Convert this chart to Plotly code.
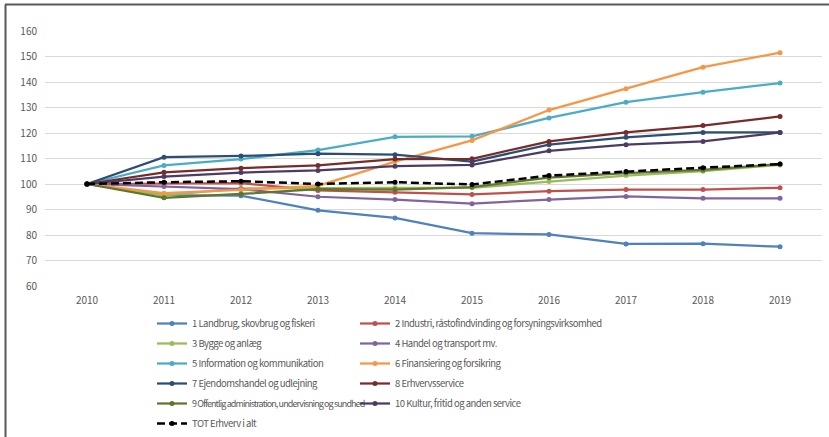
import plotly.graph_objects as go

years = [str(y) for y in range(2010, 2020)]

landbrug = [100, 95.6, 95.4, 89.7, 86.7, 80.7, 80.2, 76.5, 76.6, 75.4]
industri = [100, 100.2, 100.3, 97.5, 96.8, 95.9, 97.2, 97.8, 97.8, 98.5]
bygge = [100, 95.5, 98.3, 98.5, 98.5, 98.5, 101.0, 103.3, 105.0, 107.5]
handel = [100, 99.0, 98.0, 95.0, 93.9, 92.3, 93.9, 95.1, 94.4, 94.4]
information = [100, 107.3, 109.8, 113.3, 118.5, 118.7, 125.9, 132.1, 136.0, 139.6]
finansiering = [100, 96.4, 97.7, 99.3, 108.8, 117.1, 129.0, 137.4, 145.8, 151.5]
ejendom = [100, 110.5, 111.0, 111.9, 111.5, 108.8, 115.4, 118.3, 120.2, 120.2]
erhvervsservice = [100, 104.6, 106.2, 107.3, 109.8, 109.9, 116.7, 120.2, 122.9, 126.5]
offentlig = [100, 94.6, 96.1, 98.0, 97.8, 98.8, 102.5, 104.3, 105.5, 107.8]
kultur = [100, 102.9, 104.5, 105.3, 107.0, 107.5, 113.0, 115.4, 116.7, 120.2]
total = [100, 100.7, 101.1, 100.0, 100.7, 99.8, 103.3, 104.9, 106.4, 107.8]

y_ticks = [60, 70, 80, 90, 100, 110, 120, 130, 140, 150, 160]

series = [
    ("1 Landbrug, skovbrug og fiskeri", landbrug, "#4F81BD", "legend"),
    ("2 Industri, råstofindvinding og forsyningsvirksomhed", industri, "#C0504D", "legend2"),
    ("3 Bygge og anlæg", bygge, "#9BBB59", "legend"),
    ("4 Handel og transport mv.", handel, "#8064A2", "legend2"),
    ("5 Information og kommunikation", information, "#4BACC6", "legend"),
    ("6 Finansiering og forsikring", finansiering, "#F79646", "legend2"),
    ("7 Ejendomshandel og udlejning", ejendom, "#2C4D75", "legend"),
    ("8 Erhvervsservice", erhvervsservice, "#772C2A", "legend2"),
    ("9 Offentlig administration, undervisning og sundhed", offentlig, "#5F7530", "legend"),
    ("10 Kultur, fritid og anden service", kultur, "#4D3B62", "legend2"),
]

# tighter tracking so the legend entries stay compact
LEGEND_SPAN = '<span style="letter-spacing:-0.5px">{}</span>'
# the longest entry in the left column gets a little extra squeeze
LONG_SPAN = '<span style="letter-spacing:-0.9px;font-size:9px">{}</span>'

fig = go.Figure()
for i, (name, vals, color, leg) in enumerate(series):
    label = (LONG_SPAN if len(name) > 45 and leg == "legend" else LEGEND_SPAN).format(name)
    fig.add_trace(go.Scatter(
        x=years, y=vals, name=label, mode="lines+markers",
        line=dict(color=color, width=2.25),
        marker=dict(color=color, size=5, symbol="circle"),
        legend=leg, legendgroup=f"g{i}",
    ))

fig.add_trace(go.Scatter(
    x=years, y=total, name=LEGEND_SPAN.format("TOT Erhverv i alt"),
    mode="lines+markers",
    line=dict(color="#000000", width=2.5, dash="8px,4px"),
    marker=dict(color="#000000", size=5),
    legend="legend", legendgroup="tot",
))

font_family = "Noto Sans CJK SC, Liberation Sans, Arial"

W, H = 829, 437
ml, mr, mt, mb = 45, 7, 31, 151
pw, ph = W - ml - mr, H - mt - mb


def px_x(px):
    return (px - ml) / pw


def px_y(py):
    return (H - mb - py) / ph


legend_common = dict(
    orientation="v", xanchor="left", yanchor="top",
    font=dict(family=font_family, size=9.5, color="#595959"),
    bgcolor="rgba(0,0,0,0)", tracegroupgap=1, itemwidth=30,
    xref="container", yref="container",
)

fig.update_layout(
    width=W, height=H,
    margin=dict(l=ml, r=mr, t=mt, b=mb, autoexpand=False),
    paper_bgcolor="white", plot_bgcolor="white",
    font=dict(family=font_family, size=10, color="#595959"),
    xaxis=dict(
        type="category", showgrid=False, zeroline=False, showline=False,
        ticks="", tickfont=dict(size=10, color="#595959"),
        ticklabelstandoff=7,
    ),
    yaxis=dict(
        range=[60, 160], tickvals=y_ticks, showgrid=True, gridcolor="#D9D9D9",
        gridwidth=1, zeroline=False, showline=False, ticks="",
        tickfont=dict(size=10, color="#595959"),
        ticklabelstandoff=7,
    ),
    legend=dict(x=152 / W, y=1 - 309 / H, **legend_common),
    legend2=dict(x=355 / W, y=1 - 309 / H, **legend_common),
    showlegend=True,
    shapes=[
        dict(type="line", xref="paper", yref="paper",
             x0=px_x(5), x1=px_x(829), y0=px_y(4.5), y1=px_y(4.5),
             line=dict(color="#595959", width=2)),
        dict(type="line", xref="paper", yref="paper",
             x0=px_x(5.5), x1=px_x(5.5), y0=px_y(4.5), y1=px_y(437),
             line=dict(color="#595959", width=2)),
    ],
)

fig.write_html("out.html")
